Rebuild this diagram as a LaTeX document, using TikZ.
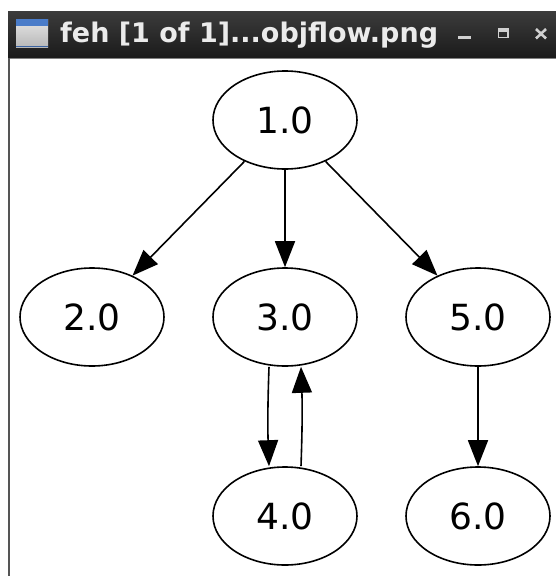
\documentclass[tikz,border=0pt]{standalone}
\usepackage{fontspec}
\setmainfont{DejaVu Sans}
\newfontfamily\titlefont{DejaVu Sans}
\usetikzlibrary{shapes.geometric,arrows.meta}
\definecolor{barTop}{HTML}{3C3C3C}
\definecolor{barBot}{HTML}{1A1A1A}
\definecolor{frameGray}{HTML}{555555}
\definecolor{iconBlue}{HTML}{4A7CC9}
\definecolor{iconBody}{HTML}{D8D8D8}
\definecolor{btnGray}{HTML}{D0D0D0}
\tikzset{
  vertex/.style={draw=black, line width=1.6pt, ellipse, minimum width=144pt,
    minimum height=98pt, inner sep=0pt, font=\fontsize{36}{40}\selectfont},
  flow/.style={draw=black, line width=1.6pt, -{Triangle[length=26pt,width=20pt]}},
  btn/.style={draw=btnGray, line width=2pt},
}
\begin{document}
\begin{tikzpicture}[x=1pt,y=-1pt]
  \useasboundingbox (0,0) rectangle (556,576);
  \fill[white] (0,0) rectangle (556,576);
  % window title bar
  \shade[top color=barTop, bottom color=barBot] (8,11) rectangle (556,58);
  \draw[gray, line width=1pt] (8,58) -- (556,58);
  \draw[frameGray, line width=1.5pt] (8.75,58) -- (8.75,576);
  % window icon
  \shade[top color=white!90!black, bottom color=iconBody!85!black] (16,19) rectangle (48,47);
  \fill[iconBlue] (16,19) rectangle (48,26);
  \draw[iconBlue!80!black, line width=0.8pt] (16,46.5) -- (48,46.5);
  \node[anchor=base west, inner sep=0pt, text=white!92!black,
        font=\titlefont\bfseries\fontsize{27}{30}\selectfont] (title) at (60,42)
        {feh [1 of 1]...objflow.png};
  % window buttons
  \draw[btn, line width=3pt] (458,37.5) -- (471,37.5);
  \draw[btn, line width=1.6pt] (498.5,29) rectangle (508,37.5);
  \draw[btn, line width=1.2pt] (498.5,31) -- (508,31);
  \draw[btn, line width=2.6pt] (536,29) -- (546,38.5);
  \draw[btn, line width=2.6pt] (536,38.5) -- (546,29);
  % graph
  \node[vertex] (n1) at (285,120) {1.0};
  \node[vertex] (n2) at (92,317) {2.0};
  \node[vertex] (n3) at (285,317) {3.0};
  \node[vertex] (n5) at (478,317) {5.0};
  \node[vertex] (n4) at (285,516) {4.0};
  \node[vertex] (n6) at (478,516) {6.0};
  \draw[flow] (n1) -- (n2);
  \draw[flow] (n1) -- (n3);
  \draw[flow] (n1) -- (n5);
  \draw[flow] ([xshift=-16pt]n3.south) to[bend right=2] ([xshift=-16pt]n4.north);
  \draw[flow] ([xshift=16pt]n4.north) to[bend right=2] ([xshift=16pt]n3.south);
  \draw[flow] (n5) -- (n6);
\end{tikzpicture}
\end{document}
